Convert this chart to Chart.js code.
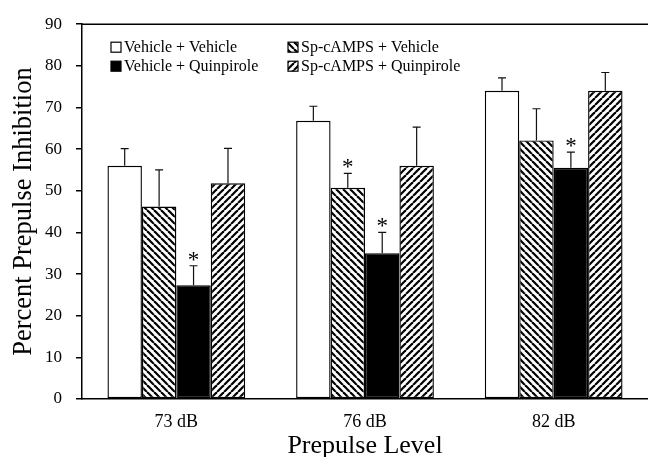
<!DOCTYPE html>
<html>
<head>
<meta charset="utf-8">
<script src="https://cdn.jsdelivr.net/npm/chart.js@4.4.0/dist/chart.umd.min.js"></script>
<style>
  html, body { margin: 0; padding: 0; background: #fff; overflow: hidden; }
</style>
</head>
<body>
<canvas id="myChart" width="648" height="457"></canvas>
<script>
// prepulse levels
const categories = ['73 dB', '76 dB', '82 dB']

const seriesNames = ['Vehicle + Vehicle', 'Sp-cAMPS + Vehicle', 'Vehicle + Quinpirole', 'Sp-cAMPS + Quinpirole']

// mean percent PPI
const vehVeh = [56.0, 66.8, 74.0]
const spVeh = [46.2, 50.7, 62.1]
const vehQuin = [27.3, 35.0, 55.5]
const spQuin = [51.8, 56.0, 74.0]

// upper error bars (SEM)
const errVehVeh = [4.1, 3.5, 3.1]
const errSpVeh = [8.8, 3.5, 7.6]
const errVehQuin = [4.7, 5.0, 3.8]
const errSpQuin = [8.4, 9.3, 4.4]

// asterisk marks (1 = significant)
const sigVehVeh = [0, 0, 0]
const sigSpVeh = [0, 1, 0]
const sigVehQuin = [1, 1, 1]
const sigSpQuin = [0, 0, 0]

const yTicks = [0, 10, 20, 30, 40, 50, 60, 70, 80, 90]

const FONT = "'Liberation Serif', 'Times New Roman', serif"
Chart.defaults.font.family = FONT
Chart.defaults.color = '#000'

function makeHatch(dir) {
  let s = 7
  let c = document.createElement('canvas')
  c.width = s
  c.height = s
  let g = c.getContext('2d')
  g.fillStyle = '#fff'
  g.fillRect(0, 0, s, s)
  g.strokeStyle = '#000'
  g.lineWidth = 2.2
  for (let k = -s; k <= s; k += s) {
    g.beginPath()
    if (dir == 'back') {
      g.moveTo(k, 0)
      g.lineTo(k + s, s)
    } else {
      g.moveTo(k, s)
      g.lineTo(k + s, 0)
    }
    g.stroke()
  }
  return g.createPattern(c, 'repeat')
}

const fills = ['#fff', makeHatch('back'), '#000', makeHatch('fwd')]
const values = [vehVeh, spVeh, vehQuin, spQuin]
const errors = [errVehVeh, errSpVeh, errVehQuin, errSpQuin]
const stars = [sigVehVeh, sigSpVeh, sigVehQuin, sigSpQuin]

const data = {
  labels: categories,
  datasets: []
}
for (let i = 0; i < values.length; i++) {
  data.datasets.push({
    label: seriesNames[i],
    data: values[i],
    backgroundColor: fills[i],
    borderColor: '#000',
    borderWidth: 1.4,
    borderSkipped: false,
    categoryPercentage: 0.73,
    barPercentage: 1.0
  })
}

// error bars, asterisks, legend and top frame line
const extras = {
  id: 'extras',
  afterDatasetsDraw(chart) {
    let ctx = chart.ctx
    let yScale = chart.scales.y
    ctx.save()
    for (let i = 0; i < chart.data.datasets.length; i++) {
      let meta = chart.getDatasetMeta(i)
      meta.data.forEach((bar, j) => {
        let v = values[i][j]
        let yTop = yScale.getPixelForValue(v + errors[i][j])
        ctx.strokeStyle = '#111'
        ctx.lineWidth = 1.2
        ctx.beginPath()
        ctx.moveTo(bar.x, bar.y)
        ctx.lineTo(bar.x, yTop)
        ctx.moveTo(bar.x - 4, yTop)
        ctx.lineTo(bar.x + 4, yTop)
        ctx.stroke()
        if (stars[i][j]) {
          ctx.fillStyle = '#000'
          ctx.font = '23px ' + FONT
          ctx.textAlign = 'center'
          ctx.textBaseline = 'alphabetic'
          ctx.fillText('*', bar.x, yTop + 1)
        }
      })
    }
    ctx.restore()
  },
  afterDraw(chart) {
    let ctx = chart.ctx
    let a = chart.chartArea
    ctx.save()
    ctx.strokeStyle = '#000'
    ctx.lineWidth = 1.5
    ctx.beginPath()
    ctx.moveTo(a.left, a.top)
    ctx.lineTo(a.right, a.top)
    ctx.stroke()

    ctx.font = '16px ' + FONT
    ctx.textBaseline = 'middle'
    ctx.textAlign = 'left'
    chart.data.datasets.forEach((ds, i) => {
      let x = a.left + 29 + (i % 2) * 177
      let y = a.top + 23 + Math.floor(i / 2) * 19
      ctx.fillStyle = ds.backgroundColor
      ctx.fillRect(x, y - 5, 10, 10)
      ctx.lineWidth = 1.2
      ctx.strokeRect(x, y - 5, 10, 10)
      ctx.fillStyle = '#000'
      ctx.fillText(ds.label, x + 13, y + 1)
    })
    ctx.restore()
  }
}

const config = {
  type: 'bar',
  data: data,
  options: {
    responsive: false,
    animation: false,
    layout: { padding: { top: 20, right: 0, bottom: 0, left: 0 } },
    plugins: {
      legend: { display: false },
      tooltip: { enabled: false }
    },
    scales: {
      x: {
        grid: { display: false },
        border: { color: '#000', width: 1.5 },
        ticks: { font: { size: 18 }, padding: 4, color: '#000' },
        title: {
          display: true,
          text: 'Prepulse Level',
          font: { size: 26, lineHeight: 1 },
          padding: { top: 0, bottom: -2 },
          color: '#000'
        },
        afterFit(scale) { scale.height = 58 }
      },
      y: {
        min: 0,
        max: 90,
        afterBuildTicks(scale) { scale.ticks = yTicks.map(v => ({ value: v })) },
        grid: { drawOnChartArea: false, drawTicks: true, tickLength: 6, color: '#000', lineWidth: 1.5 },
        border: { color: '#000', width: 1.5 },
        ticks: { font: { size: 17 }, padding: 14, color: '#000' },
        title: {
          display: true,
          text: 'Percent Prepulse Inhibition',
          font: { size: 26.5, lineHeight: 1 },
          padding: { top: 11, bottom: 0 },
          color: '#000'
        },
        afterFit(scale) { scale.width = 82 }
      }
    }
  },
  plugins: [extras]
}

const myChart = new Chart(document.getElementById('myChart'), config)
</script>
</body>
</html>
